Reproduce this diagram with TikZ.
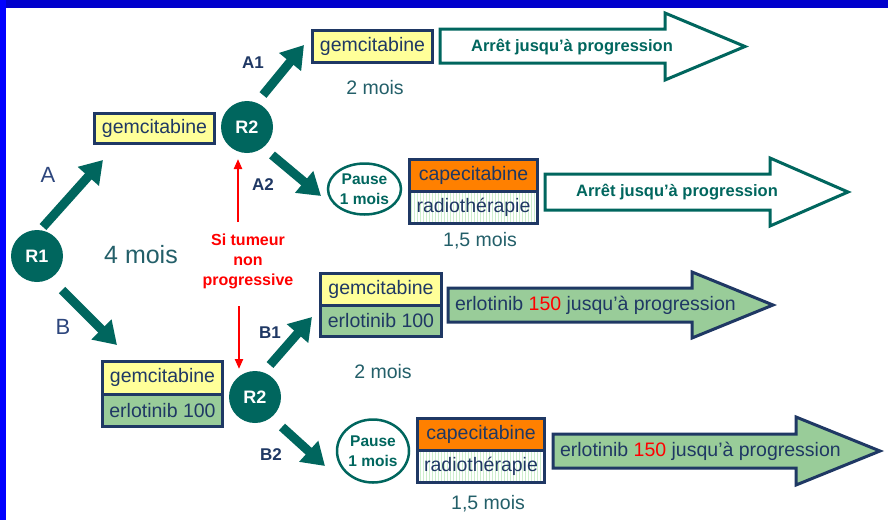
\documentclass[tikz,border=0pt]{standalone}
\usepackage{fontspec}
\setmainfont{Liberation Sans}
\usetikzlibrary{arrows.meta,patterns,shapes.geometric}
\definecolor{teal0}{RGB}{0,102,94}
\definecolor{navy}{RGB}{31,56,100}
\definecolor{lblue}{RGB}{45,70,125}
\definecolor{moisc}{RGB}{35,95,105}
\definecolor{yel}{RGB}{255,255,153}
\definecolor{grn}{RGB}{153,204,153}
\definecolor{orng}{RGB}{255,128,0}
\definecolor{hatch}{RGB}{205,238,205}
\definecolor{frameA}{RGB}{0,0,204}
\definecolor{frameB}{RGB}{0,0,255}
\definecolor{redc}{RGB}{255,0,0}
\begin{document}
\begin{tikzpicture}[x=1pt,y=-1pt,
  every node/.style={inner sep=0pt,outer sep=0pt},
  rnode/.style={circle,fill=teal0,minimum size=52pt,text=white,font=\fontsize{18}{20}\selectfont\bfseries},
  cell/.style={text=navy,font=\fontsize{19.5}{22}\selectfont},
  yelcell/.style={cell,fill=yel},
  grncell/.style={cell,fill=grn},
  orcell/.style={cell,fill=orng},
  hatchcell/.style={cell,fill=white,postaction={pattern=vertical lines,pattern color=hatch}},
  boxline/.style={draw=navy,line width=3pt},
  pausenode/.style={ellipse,draw=teal0,fill=white,line width=2.5pt,align=center,text=teal0,font=\fontsize{15.5}{20}\selectfont\bfseries},
  thickarrow/.style={draw=teal0,line width=9pt,-{Triangle[width=27pt,length=22pt]}},
  redarrow/.style={draw=redc,line width=2.2pt,-{Triangle[width=8pt,length=10pt]}},
  hollowarrow/.style={draw=teal0,fill=white,line width=3pt,line join=miter},
  filledarrow/.style={draw=navy,fill=grn,line width=3pt,line join=miter},
  arrettext/.style={text=teal0,font=\fontsize{16.5}{20}\selectfont\bfseries},
  erltext/.style={text=navy,font=\fontsize{19.5}{22}\selectfont},
  moistext/.style={text=moisc,font=\fontsize{19.5}{22}\selectfont},
  armlabel/.style={text=lblue,font=\fontsize{22}{24}\selectfont},
  sublabel/.style={text=navy,font=\fontsize{17}{20}\selectfont\bfseries},
  redtext/.style={text=redc,align=center,font=\fontsize{16}{20}\selectfont\bfseries}
]
\useasboundingbox (0,0) rectangle (888,520);
\fill[white] (0,0) rectangle (888,520);
% frame
\fill[frameA] (0,0) rectangle (888,8);
\fill[frameB] (0,0) rectangle (6,520);

% randomisation nodes
\node[rnode] (r1) at (37,256) {R1};
\node[rnode] (r2a) at (247,127) {R2};
\node[rnode] (r2b) at (255,397) {R2};

% arm A boxes
\node[yelcell,minimum width=120pt,minimum height=30pt] (gemA) at (154.5,128.5) {gemcitabine};
\draw[boxline] (gemA.north west) rectangle (gemA.south east);

\node[yelcell,minimum width=120pt,minimum height=32pt] (gemA1) at (372.5,46.5) {gemcitabine};
\draw[boxline] (gemA1.north west) rectangle (gemA1.south east);

\node[orcell,minimum width=128pt,minimum height=32pt] (capA2) at (473.5,175.5) {capecitabine};
\node[hatchcell,minimum width=128pt,minimum height=32pt] (radA2) at (473.5,207.5) {radiothérapie};
\draw[boxline] (capA2.north west) rectangle (radA2.south east);
\draw[boxline] (capA2.south west) -- (capA2.south east);

% arm B boxes
\node[yelcell,minimum width=120pt,minimum height=32.5pt] (gemB) at (162.5,377.75) {gemcitabine};
\node[grncell,minimum width=120pt,minimum height=32.5pt] (erlB) at (162.5,410.25) {erlotinib 100};
\draw[boxline] (gemB.north west) rectangle (erlB.south east);
\draw[boxline] (gemB.south west) -- (gemB.south east);

\node[yelcell,minimum width=121pt,minimum height=31.5pt] (gemB1) at (381,289.25) {gemcitabine};
\node[grncell,minimum width=121pt,minimum height=31.5pt] (erlB1) at (381,320.75) {erlotinib 100};
\draw[boxline] (gemB1.north west) rectangle (erlB1.south east);
\draw[boxline] (gemB1.south west) -- (gemB1.south east);

\node[orcell,minimum width=127pt,minimum height=32pt] (capB2) at (481,434.5) {capecitabine};
\node[hatchcell,minimum width=127pt,minimum height=32pt] (radB2) at (481,466.5) {radiothérapie};
\draw[boxline] (capB2.north west) rectangle (radB2.south east);
\draw[boxline] (capB2.south west) -- (capB2.south east);

% pause nodes
\node[pausenode,minimum width=73pt,minimum height=51pt] (pauseA) at (364.5,189) {Pause\\1 mois};
\node[pausenode,minimum width=72pt,minimum height=63pt] (pauseB) at (373,451) {Pause\\1 mois};

% big arrows
\draw[hollowarrow] (440,29) -- (665,29) -- (665,13) -- (745,46.5) -- (665,80) -- (665,63) -- (440,63) -- cycle;
\node[arrettext] (arretA1) at (572,47) {Arrêt jusqu’à progression};
\draw[hollowarrow] (545,174) -- (770,174) -- (770,158) -- (848,192) -- (770,226) -- (770,210) -- (545,210) -- cycle;
\node[arrettext] (arretA2) at (677,192) {Arrêt jusqu’à progression};
\draw[filledarrow] (448,288) -- (692,288) -- (692,272) -- (773,305) -- (692,338) -- (692,322) -- (448,322) -- cycle;
\node[erltext,anchor=west] (erlA) at (455,305) {erlotinib \textcolor{redc}{150} jusqu’à progression};
\draw[filledarrow] (553,434) -- (796,434) -- (796,417) -- (880,451) -- (796,485) -- (796,468) -- (553,468) -- cycle;
\node[erltext,anchor=west] (erlBB) at (560,451) {erlotinib \textcolor{redc}{150} jusqu’à progression};

% durations
\node[moistext,font=\fontsize{25}{28}\selectfont] (m4) at (141,255) {4 mois};
\node[moistext] (m2a) at (375,88) {2 mois};
\node[moistext] (m15a) at (480,241) {1,5 mois};
\node[moistext] (m2b) at (383,372) {2 mois};
\node[moistext] (m15b) at (488,504) {1,5 mois};

% labels
\node[armlabel] (la) at (48,175) {A};
\node[armlabel] (lb) at (63,327) {B};
\node[sublabel] (la1) at (253,63) {A1};
\node[sublabel] (la2) at (263,185) {A2};
\node[sublabel] (lb1) at (270,333) {B1};
\node[sublabel] (lb2) at (271,455) {B2};

% red condition
\node[redtext] (cond) at (248,261) {Si tumeur\\non\\progressive};
\coordinate (upS) at (238,222);
\coordinate (upE) at (238,159);
\coordinate (dnS) at (239,306);
\coordinate (dnE) at (239,369);
\draw[redarrow] (upS) -- (upE);
\draw[redarrow] (dnS) -- (dnE);

% thick arrows
\coordinate (aS) at (43,227);  \coordinate (aE) at (103,160);
\coordinate (a1S) at (263,95); \coordinate (a1E) at (304,45);
\coordinate (a2S) at (272,155); \coordinate (a2E) at (321,196);
\coordinate (bS) at (62,290);  \coordinate (bE) at (117,345);
\coordinate (b1S) at (270,365); \coordinate (b1E) at (312,317);
\coordinate (b2S) at (282,427); \coordinate (b2E) at (325,466);
\draw[thickarrow] (aS) -- (aE);
\draw[thickarrow] (a1S) -- (a1E);
\draw[thickarrow] (a2S) -- (a2E);
\draw[thickarrow] (bS) -- (bE);
\draw[thickarrow] (b1S) -- (b1E);
\draw[thickarrow] (b2S) -- (b2E);
\end{tikzpicture}
\end{document}
